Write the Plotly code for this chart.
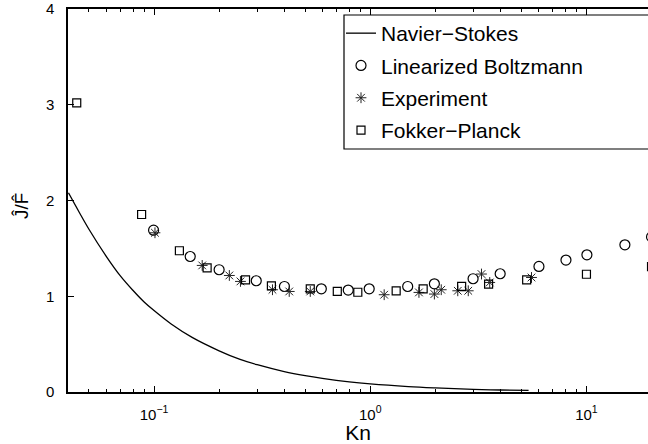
import math
import plotly.graph_objects as go

# Navier-Stokes solution (solid curve)
ns_kn = [0.0402, 0.045, 0.05, 0.06, 0.07, 0.08, 0.09, 0.1, 0.12, 0.15, 0.2, 0.25,
         0.3, 0.4, 0.5, 0.6, 0.8, 1.0, 1.5, 2.0, 3.0, 4.0, 5.4]
ns_j = [2.08, 1.88, 1.70, 1.42, 1.21, 1.06, 0.94, 0.85, 0.71, 0.57, 0.43, 0.34,
        0.285, 0.213, 0.17, 0.142, 0.106, 0.085, 0.057, 0.043, 0.028, 0.021, 0.016]

# Linearized Boltzmann solution
lb_kn = [0.0995, 0.147, 0.200, 0.297, 0.401, 0.594, 0.791, 0.989, 1.49, 1.98,
         2.99, 3.99, 6.03, 8.04, 10.05, 15.06, 20.0]
lb_j = [1.69, 1.415, 1.277, 1.162, 1.102, 1.078, 1.065, 1.078, 1.102, 1.130,
        1.183, 1.235, 1.311, 1.378, 1.433, 1.537, 1.62]

# Experimental data
ex_kn = [0.101, 0.167, 0.223, 0.251, 0.353, 0.422, 0.528, 1.16, 1.68, 1.98,
         2.13, 2.54, 2.84, 3.27, 3.57, 5.57]
ex_j = [1.663, 1.322, 1.217, 1.155, 1.068, 1.050, 1.050, 1.016, 1.040, 1.023,
        1.068, 1.057, 1.057, 1.232, 1.144, 1.196]

# Fokker-Planck solution
fp_kn = [0.0439, 0.0876, 0.131, 0.176, 0.265, 0.349, 0.528, 0.704, 0.876, 1.318,
         1.757, 2.647, 3.527, 5.29, 10.0, 20.0]
fp_j = [3.02, 1.854, 1.475, 1.297, 1.172, 1.109, 1.078, 1.050, 1.042, 1.057,
        1.078, 1.104, 1.127, 1.172, 1.23, 1.31]

x_major = [0.1, 1, 10]
x_major_text = ["10<sup>\u22121</sup>", "10<sup>0</sup>", "10<sup>1</sup>"]
x_minor = [0.05, 0.06, 0.07, 0.08, 0.09, 0.2, 0.3, 0.4, 0.5, 0.6, 0.7, 0.8, 0.9,
           2, 3, 4, 5, 6, 7, 8, 9, 20]
y_ticks = [0, 1, 2, 3, 4]

FONT = "Liberation Sans, Arial, Helvetica, sans-serif"

fig = go.Figure()
fig.add_trace(go.Scatter(
    x=ns_kn, y=ns_j, mode="lines", name="Navier\u2212Stokes",
    line=dict(color="black", width=1.3, shape="spline"), legendgroup="a"))
fig.add_trace(go.Scatter(
    x=lb_kn, y=lb_j, mode="markers", name="Linearized Boltzmann",
    marker=dict(symbol="circle-open", size=10, color="black",
                line=dict(color="black", width=1.2)), legendgroup="b"))
fig.add_trace(go.Scatter(
    x=ex_kn, y=ex_j, mode="markers", name="Experiment",
    marker=dict(symbol="asterisk-open", size=9, color="#222",
                line=dict(color="#222", width=1)), legendgroup="c"))
fig.add_trace(go.Scatter(
    x=fp_kn, y=fp_j, mode="markers", name="Fokker\u2212Planck",
    marker=dict(symbol="square-open", size=8, color="black",
                line=dict(color="black", width=1.2)), legendgroup="d"))

left = 68
plot_w = 648 - left
top, bottom = 9, 392
plot_h = bottom - top

def px_x(p):
    return (p - left) / plot_w

def px_y(p):
    return (bottom - p) / plot_h

# legend frame, running off the right side of the page
fig.add_shape(type="rect", xref="paper", yref="paper",
              x0=px_x(344), x1=1.05, y0=px_y(149), y1=px_y(15),
              line=dict(color="black", width=1.2), fillcolor="white", layer="below")

fig.update_layout(
    width=648, height=444,
    margin=dict(l=left, r=0, t=top, b=444 - bottom),
    paper_bgcolor="white", plot_bgcolor="rgba(0,0,0,0)",
    font=dict(family=FONT, color="black"),
    showlegend=True,
    legend=dict(x=px_x(341), y=px_y(13), xanchor="left", yanchor="top",
                bgcolor="rgba(0,0,0,0)", borderwidth=0,
                font=dict(size=21, family=FONT), tracegroupgap=2,
                traceorder="grouped"),
    xaxis=dict(
        type="log", range=[math.log10(0.04), 1.2847],
        tickmode="array", tickvals=x_major, ticktext=x_major_text,
        ticks="inside", ticklen=6, tickwidth=1.2, tickcolor="black",
        showline=True, linecolor="black", linewidth=1.5, mirror="ticks",
        showgrid=False, zeroline=False,
        tickfont=dict(size=15, family=FONT), ticklabelstandoff=8,
        minor=dict(tickmode="array", tickvals=x_minor, ticks="inside",
                   ticklen=3.5, tickwidth=1, tickcolor="black", showgrid=False),
        title=dict(text="Kn", font=dict(size=21, family=FONT), standoff=1),
    ),
    yaxis=dict(
        range=[0, 4], tickmode="array", tickvals=y_ticks,
        ticks="inside", ticklen=6, tickwidth=1.2, tickcolor="black",
        showline=True, linecolor="black", linewidth=1.5, mirror=False,
        showgrid=False, zeroline=False,
        tickfont=dict(size=15, family=FONT), ticklabelstandoff=9,
    ),
)

fig.add_annotation(text="\u0134/F\u0302", xref="paper", yref="paper",
                   x=px_x(21), y=px_y(206), xanchor="center", yanchor="middle",
                   showarrow=False, textangle=-90,
                   font=dict(size=19, family=FONT))

fig.write_html("out.html")
